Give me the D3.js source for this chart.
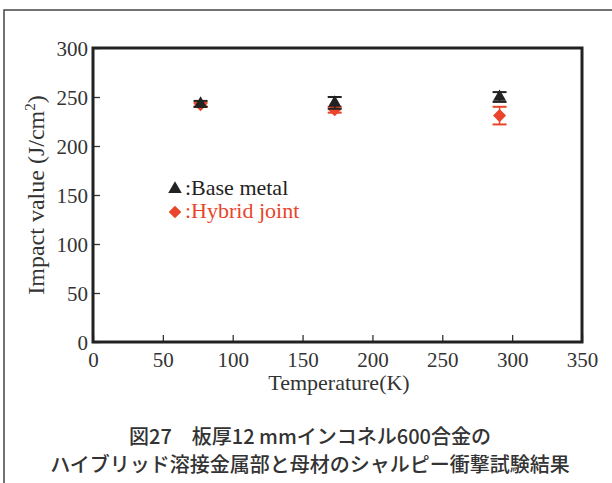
<!DOCTYPE html>
<html>
<head>
<meta charset="utf-8">
<script src="https://cdn.jsdelivr.net/npm/d3@7"></script>
<style>
  html, body { margin: 0; padding: 0; background: #fff; }
  svg { display: block; }
</style>
</head>
<body>
<div id="chart"></div>
<script>
// data
var temps = [77, 173, 291];
var baseMetal = [243, 244, 250];
var baseErr = [3, 6, 5];
var hybridJoint = [242, 237, 231];
var hybridErr = [2, 3, 9];
var xTicks = [0, 50, 100, 150, 200, 250, 300, 350];
var yTicks = [0, 50, 100, 150, 200, 250, 300];
var captionLines = ["図27　板厚12 mmインコネル600合金の", "ハイブリッド溶接金属部と母材のシャルピー衝撃試験結果"];

var width = 612, height = 483;
var margin = { left: 93, top: 48, right: 30, bottom: 141 };
var black = "#222", red = "#e8452a";
var serif = "Liberation Serif";

var svg = d3.select("#chart").append("svg")
    .attr("width", width)
    .attr("height", height);

// outer frame (only top and left show)
svg.append("path")
    .attr("d", "M4,483 V10 H612")
    .style("fill", "none")
    .style("stroke", "#444")
    .style("stroke-width", 1.5);

var x = d3.scaleLinear().domain([0, 350]).range([margin.left, width - margin.right]);
var y = d3.scaleLinear().domain([0, 300]).range([height - margin.bottom, margin.top]);

// axes with inward ticks
var xAxis = svg.append("g")
    .attr("transform", "translate(0," + y(0) + ")")
    .call(d3.axisBottom(x).tickValues(xTicks).tickSizeInner(-7).tickSizeOuter(0).tickPadding(10));
var yAxis = svg.append("g")
    .attr("transform", "translate(" + x(0) + ",0)")
    .call(d3.axisLeft(y).tickValues(yTicks).tickSizeInner(-7).tickSizeOuter(0).tickPadding(5));

[xAxis, yAxis].forEach(function(a) {
    a.attr("font-family", serif).attr("font-size", 21);
    a.select(".domain").remove();
    a.selectAll(".tick line").attr("stroke", "#333").attr("stroke-width", 1.3);
    a.selectAll(".tick text").attr("fill", "#333").style("font-family", serif);
});
xAxis.selectAll(".tick text").attr("dy", "0.71em");
yAxis.selectAll(".tick text").attr("dy", "0.34em");

// plot box
svg.append("rect")
    .attr("x", x(0))
    .attr("y", y(300))
    .attr("width", x(350) - x(0))
    .attr("height", y(0) - y(300))
    .attr("fill", "none")
    .attr("stroke", "#222")
    .attr("stroke-width", 3);

// axis titles
svg.append("text")
    .attr("x", 339)
    .attr("y", 390)
    .attr("text-anchor", "middle")
    .attr("font-family", serif)
    .attr("font-size", 22)
    .attr("fill", "#333")
    .text("Temperature(K)");

var yTitle = svg.append("text")
    .attr("transform", "translate(44," + ((y(0) + y(300)) / 2) + ") rotate(-90)")
    .attr("text-anchor", "middle")
    .attr("font-family", serif)
    .attr("font-size", 24)
    .attr("fill", "#333");
yTitle.append("tspan").text("Impact value (J/cm");
yTitle.append("tspan").attr("dy", -9).attr("font-size", 15).text("2");
yTitle.append("tspan").attr("dy", 9).text(")");

// error bars + markers
function drawSeries(vals, errs, color, shape, size, rot) {
    var g = svg.append("g");
    temps.forEach(function(t, i) {
        var cx = x(t);
        var y1 = y(vals[i] + errs[i]), y2 = y(vals[i] - errs[i]);
        g.append("line")
            .attr("x1", cx).attr("x2", cx).attr("y1", y1).attr("y2", y2)
            .attr("stroke", color).attr("stroke-width", 1.5);
        [y1, y2].forEach(function(yy) {
            g.append("line")
                .attr("x1", cx - 7).attr("x2", cx + 7).attr("y1", yy).attr("y2", yy)
                .attr("stroke", color).attr("stroke-width", 2);
        });
    });
    g.selectAll("path.mark")
        .data(vals)
        .enter().append("path")
        .attr("class", "mark")
        .attr("transform", function(d, i) {
            return "translate(" + x(temps[i]) + "," + y(d) + ") rotate(" + rot + ")";
        })
        .attr("d", d3.symbol().type(shape).size(size))
        .attr("fill", color);
}
drawSeries(hybridJoint, hybridErr, red, d3.symbolSquare, 85, 45);
drawSeries(baseMetal, baseErr, black, d3.symbolTriangle, 75, 0);

// legend
var legend = [
    { label: ":Base metal", color: black, shape: d3.symbolTriangle, size: 80, rot: 0, y: 189 },
    { label: ":Hybrid joint", color: red, shape: d3.symbolSquare, size: 80, rot: 45, y: 212 }
];
legend.forEach(function(l) {
    svg.append("path")
        .attr("transform", "translate(175," + l.y + ") rotate(" + l.rot + ")")
        .attr("d", d3.symbol().type(l.shape).size(l.size))
        .attr("fill", l.color);
    svg.append("text")
        .attr("x", 185)
        .attr("y", l.y + 6)
        .attr("font-family", serif)
        .attr("font-size", 22)
        .attr("fill", l.color)
        .text(l.label);
});

// caption
captionLines.forEach(function(line, i) {
    svg.append("text")
        .attr("x", 310)
        .attr("y", 444 + i * 28)
        .attr("text-anchor", "middle")
        .attr("font-family", "Noto Sans CJK JP")
        .attr("font-weight", 500)
        .attr("font-size", 20)
        .attr("fill", "#333")
        .text(line);
});
</script>
</body>
</html>
